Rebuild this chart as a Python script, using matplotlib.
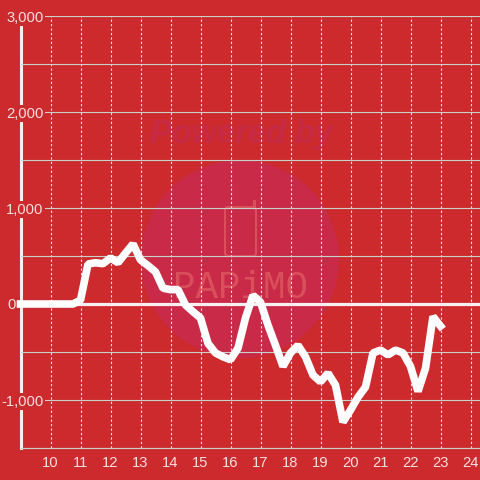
#!/usr/bin/env python3
"""Intraday balance line on a red background, with a faint watermark behind it."""
import matplotlib
matplotlib.use('Agg')
import matplotlib.pyplot as plt
from matplotlib.patches import Circle, FancyBboxPatch, Rectangle
from matplotlib.transforms import Affine2D

plt.rcParams['font.family'] = ['Liberation Sans', 'DejaVu Sans']

# quarter-hour readings from 9:00 to 23:00
values = [0, 0, 0, 0, 0, 0, 0, 0,
          40, 416, 430, 420, 480, 430, 530, 625,
          460, 400, 335, 165, 150, 150, -10, -80,
          -145, -410, -510, -550, -580, -460, -145, 90,
          20, -220, -430, -650, -510, -430, -550, -740,
          -810, -720, -845, -1230, -1105, -970, -865, -510,
          -480, -530, -480, -510, -650, -910, -670, -130,
          -230]
hours = [9 + i / 4 for i in range(len(values))]

x_ticks = list(range(10, 25))
y_major = [-1000, 1000, 2000, 3000]
y_major_labels = ['-1,000', '1,000', '2,000', '3,000']
y_minor = [-1500, -500, 500, 1500, 2500]

BG = '#cc2a2d'
GRID = '#c8d2cc'
DOTS = '#e6ebe6'
LABEL = '#f6dfe0'
WM_CIRCLE = '#c92a47'
WM_LOGO = '#d9505c'
WM_TEXT = '#c62a44'

fig = plt.figure(figsize=(4.8, 4.8), dpi=100, facecolor=BG)
ax = fig.add_axes([20.5 / 480, 32 / 480, 459.5 / 480, 432 / 480], facecolor='none')

# watermark sits on the figure, under the axes; drawn in pixel coordinates
px = Affine2D().scale(1 / 480, -1 / 480).translate(0, 1) + fig.transFigure
fig.patches.append(Circle((240, 259), 99, facecolor=WM_CIRCLE, edgecolor='none', transform=px, figure=fig, zorder=-3))
fig.patches.append(FancyBboxPatch((225, 207), 31, 49, boxstyle='round,pad=0,rounding_size=3', facecolor='none',
                                  edgecolor=WM_LOGO, linewidth=1.5, transform=px, figure=fig, zorder=-2))
fig.patches.append(Rectangle((253, 200), 3, 8, facecolor=WM_LOGO, edgecolor='none', transform=px, figure=fig, zorder=-2))
fig.text(242, 135, 'Powered by', transform=px, color=WM_TEXT, fontsize=23.5, fontweight='bold', fontstyle='italic',
         ha='center', va='center', zorder=-2)
fig.text(240, 288, 'PAPiMO', transform=px, color=WM_LOGO, fontsize=27, family='Liberation Mono',
         ha='center', va='center', zorder=-2)

ax.set_xlim(9, 9 + 459.5 / 30)
ax.set_ylim(-1500, 3000)

ax.set_xticks(x_ticks)
ax.set_yticks([0] + y_major)
ax.set_yticklabels([''] + y_major_labels)
ax.set_yticks(y_minor, minor=True)
ax.tick_params(axis='both', which='both', length=0, labelcolor=LABEL, labelsize=10.6)
ax.tick_params(axis='y', pad=-16.5)
ax.tick_params(axis='x', pad=6)
for lab in ax.get_yticklabels():
    lab.set_bbox(dict(facecolor=BG, edgecolor='none', pad=1))

ax.grid(True, axis='y', which='both', color=GRID, linewidth=0.8)
ax.grid(True, axis='x', which='major', color=DOTS, linewidth=0.8, linestyle=(0, (2, 2)))
ax.set_axisbelow(True)

for side in ['top', 'right', 'left']:
    ax.spines[side].set_visible(False)
ax.spines['bottom'].set_color(GRID)
ax.spines['bottom'].set_linewidth(0.8)

# y axis line and zero line sit under the tick labels
ax.axvline(9, color='#f6eeee', linewidth=2.2, zorder=0.5, clip_on=False)
ax.axhline(0, color='#f8f0f0', linewidth=2.3, zorder=2)
ax.annotate('0', (0, 0), xycoords=ax.get_yaxis_transform(), xytext=(-3.5, -1), textcoords='offset points',
            color=LABEL, fontsize=10.6, ha='right', va='center',
            bbox=dict(facecolor=BG, edgecolor='none', pad=0.5), zorder=2.5)

ax.plot(hours, values, color='white', linewidth=5.5, solid_joinstyle='bevel', solid_capstyle='projecting',
        zorder=3, clip_on=False)

fig.savefig('out.png', dpi=100, facecolor=BG)
plt.close(fig)
